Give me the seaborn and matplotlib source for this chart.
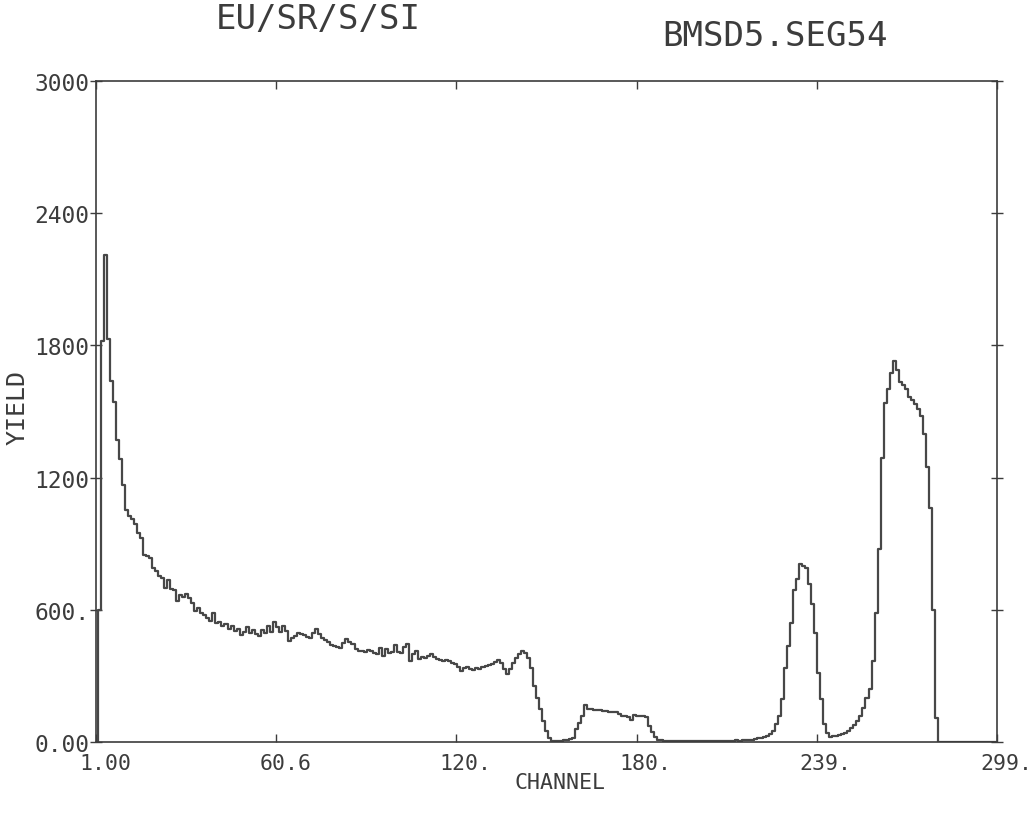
import numpy as np
import pandas as pd
import matplotlib
matplotlib.use("Agg")
import matplotlib.pyplot as plt
import matplotlib.transforms as mtransforms
import seaborn as sns

# Backscattering spectrum, counts per channel (channels 1..299)
edge_counts = [  # channels 1-60: surface edge and low-energy tail
    0, 600, 1820, 2210, 1830, 1640, 1545, 1370, 1285, 1165,
    1055, 1025, 1010, 990, 950, 925, 850, 845, 835, 790,
    775, 755, 745, 700, 735, 695, 690, 640, 665, 660,
    670, 655, 630, 595, 610, 585, 575, 565, 550, 585,
    540, 545, 527, 535, 515, 525, 505, 512, 486, 500,
    520, 495, 510, 488, 482, 510, 495, 525, 500, 545,
]
plateau_counts = [  # channels 61-150: substrate plateau and S signal
    520, 498, 527, 505, 458, 472, 481, 495, 490, 484,
    478, 470, 495, 513, 488, 472, 465, 455, 440, 436,
    430, 425, 450, 468, 455, 443, 420, 413, 415, 410,
    418, 413, 405, 398, 428, 392, 420, 404, 410, 438,
    408, 404, 430, 445, 368, 398, 413, 377, 388, 381,
    392, 400, 384, 377, 370, 366, 372, 368, 360, 354,
    340, 322, 336, 342, 330, 326, 336, 331, 340, 346,
    350, 356, 362, 370, 360, 330, 308, 330, 360, 382,
    400, 415, 402, 380, 336, 255, 200, 150, 95, 50,
]
sr_counts = [  # channels 151-220: Sr layer and gap
    16, 6, 3, 3, 5, 8, 10, 12, 16, 58,
    88, 120, 166, 150, 148, 147, 145, 143, 142, 140,
    138, 136, 134, 125, 120, 116, 112, 98, 121, 120,
    118, 116, 115, 72, 45, 24, 10, 8, 6, 5,
    5, 4, 6, 4, 5, 3, 4, 5, 3, 4,
    3, 5, 4, 3, 4, 5, 4, 6, 5, 4,
    6, 5, 7, 6, 8, 7, 9, 10, 12, 16,
]
eu_counts = [  # channels 221-299: Eu peaks
    18, 22, 25, 35, 48, 80, 116, 193, 334, 434,
    538, 692, 738, 806, 798, 788, 716, 625, 494, 312,
    195, 81, 41, 23, 25, 28, 32, 36, 41, 50,
    64, 78, 96, 120, 155, 200, 241, 368, 586, 877,
    1290, 1540, 1600, 1676, 1730, 1690, 1635, 1620, 1600, 1565,
    1550, 1535, 1510, 1480, 1400, 1250, 1060, 600, 110, 0,
    0, 0, 0, 0, 0, 0, 0, 0, 0, 0,
    0, 0, 0, 0, 0, 0, 0, 0, 0,
]

counts = edge_counts + plateau_counts + sr_counts + eu_counts
channels = np.arange(1, len(counts) + 1)

x_ticks = [1.0, 60.6, 120.2, 179.8, 239.4, 299.0]
x_tick_labels = ["1.00", "60.6", "120.", "180.", "239.", "299."]
y_ticks = [0, 600, 1200, 1800, 2400, 3000]
y_tick_labels = ["0.00", "600.", "1200", "1800", "2400", "3000"]

title_left = "EU/SR/S/SI"
title_right = "BMSD5.SEG54"
x_title = "CHANNEL"
y_title = "YIELD"

sns.set_theme(style="white")
plt.rcParams["font.family"] = ["DejaVu Sans Mono", "DejaVu Sans"]

ink = "#3c3c3c"
W, H = 1035, 820
fig = plt.figure(figsize=(W / 100, H / 100), dpi=100)
fig.patch.set_facecolor("white")

left, right, top, bottom = 96, 997, 82, 743
ax = fig.add_axes([left / W, 1 - bottom / H, (right - left) / W, (bottom - top) / H])

df = pd.DataFrame({"channel": channels, "yield": counts})
sns.lineplot(data=df, x="channel", y="yield", ax=ax, color="#474747",
             linewidth=1.6, drawstyle="steps-mid", estimator=None)

ax.set_xlim(1, 299)
ax.set_ylim(0, 3000)
ax.set_xlabel("")
ax.set_ylabel("")

for side in ["left", "right", "top", "bottom"]:
    ax.spines[side].set_visible(True)
    ax.spines[side].set_color(ink)
    ax.spines[side].set_linewidth(1.2)

ax.set_xticks(x_ticks)
ax.set_xticklabels(x_tick_labels)
ax.set_yticks(y_ticks)
ax.set_yticklabels(y_tick_labels)

ax.tick_params(axis="x", which="major", direction="in", length=6, width=1.0,
               color=ink, labelcolor=ink, labelsize=15.5, pad=8,
               top=True, bottom=True)
ax.tick_params(axis="y", which="major", direction="inout", length=8, width=1.0,
               color=ink, labelcolor=ink, labelsize=16.5, pad=1,
               left=True, right=True)

# shift the channel labels slightly right of their ticks
shift = mtransforms.ScaledTranslation(9 / 100, 0, fig.dpi_scale_trans)
for lab in ax.get_xticklabels():
    lab.set_transform(lab.get_transform() + shift)

fig.text(318 / W, 1 - 20 / H, title_left, ha="center", va="center",
         fontsize=24.5, color=ink)
fig.text(775 / W, 1 - 36 / H, title_right, ha="center", va="center",
         fontsize=24.5, color=ink)
fig.text(560 / W, 1 - 783 / H, x_title, ha="center", va="center",
         fontsize=15.5, color=ink)
fig.text(18 / W, 1 - 408 / H, y_title, ha="center", va="center",
         fontsize=18, color=ink, rotation=90)

fig.savefig("out.png", dpi=100, facecolor="white")
